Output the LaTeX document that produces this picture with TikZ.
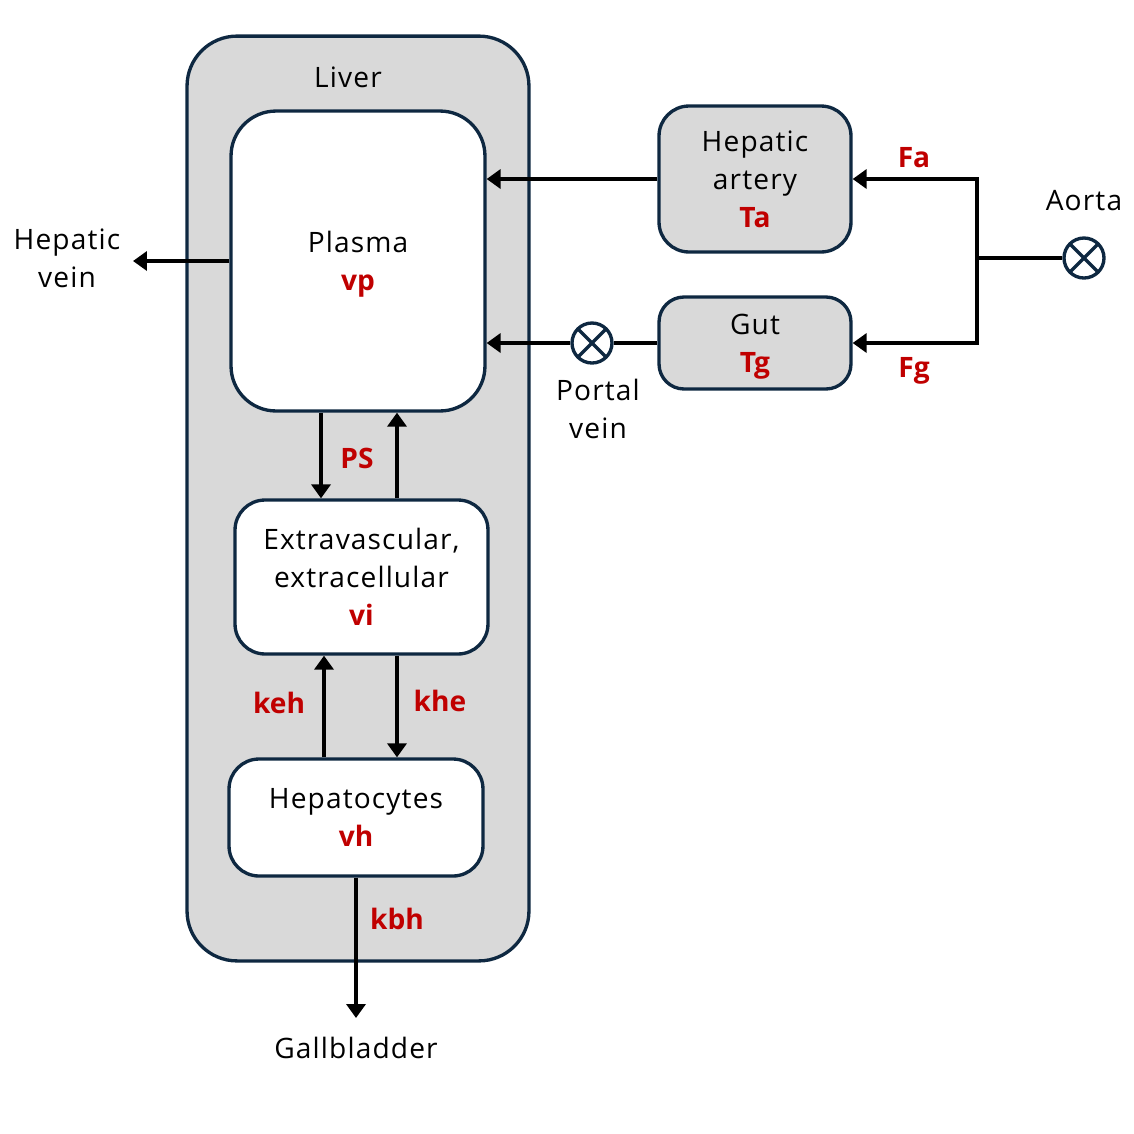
\documentclass[tikz,border=0pt]{standalone}
\usepackage{fontspec}
\setmainfont{Open Sans}[LetterSpace=4,BoldFeatures={LetterSpace=0}]
\usepackage{tikz}
\usetikzlibrary{arrows.meta}

\definecolor{navy}{RGB}{14,40,65}
\definecolor{liverfill}{RGB}{217,217,217}
\definecolor{ratered}{RGB}{192,0,0}
\newcommand{\rate}[1]{\textcolor{ratered}{\bfseries\smash{#1}}}

\tikzset{
  compbox/.style={draw=navy,line width=1.9pt,fill=white,align=center,inner sep=0pt,
    font=\fontsize{16}{21.6}\selectfont},
  organbox/.style={compbox,fill=liverfill},
  flow/.style={line width=2.2pt,-{Triangle[length=0.28cm,width=0.38cm]}},
  plainline/.style={line width=2.2pt},
  txt/.style={align=center,inner sep=0pt,font=\fontsize{16}{21.6}\selectfont},
  ratelbl/.style={txt,text=ratered,font=\fontsize{16}{21.6}\selectfont\bfseries},
  valve/.style={circle,draw=navy,line width=1.9pt,fill=white,minimum size=0.8cm,inner sep=0pt,
    path picture={\draw[navy,line width=1.9pt] (path picture bounding box.north east) -- (path picture bounding box.south west)
      (path picture bounding box.north west) -- (path picture bounding box.south east);}}
}

\begin{document}
\begin{tikzpicture}[x=0.02cm,y=-0.02cm]
\useasboundingbox (0,0) rectangle (1134,1134);

% liver and its compartments
\node[organbox,rounded corners=1cm,minimum width=6.84cm,minimum height=18.5cm] (liver) at (358,498.5) {};
\node[txt] (liverlbl) at (348,77) {Liver};
\node[compbox,rounded corners=0.9cm,minimum width=5.08cm,minimum height=6cm] (plasma) at (358,261) {Plasma\\\rate{vp}};
\node[compbox,rounded corners=0.6cm,minimum width=5.06cm,minimum height=3.08cm] (extra) at (361.5,577) {Extravascular,\\extracellular\\\rate{vi}};
\node[compbox,rounded corners=0.6cm,minimum width=5.08cm,minimum height=2.34cm] (hep) at (356,817.5) {Hepatocytes\\\rate{vh}};

% supply side
\node[organbox,rounded corners=0.6cm,minimum width=3.84cm,minimum height=2.92cm] (artery) at (755,179) {Hepatic\\artery\\\rate{Ta}};
\node[organbox,rounded corners=0.5cm,minimum width=3.84cm,minimum height=1.84cm] (gut) at (755,343) {Gut\\\rate{Tg}};
\node[valve] (pv) at (592,343) {};
\node[valve] (aorta) at (1084,258) {};
\coordinate (junc) at (977,258);
\coordinate (hvend) at (133,260);
\coordinate (gallend) at (355,1018);

% outside labels
\node[txt] (hvlbl) at (67,258) {Hepatic\\vein};
\node[txt] (pvlbl) at (598,409) {Portal\\vein};
\node[txt] (aortalbl) at (1084,201) {Aorta};
\node[txt] (gall) at (356,1048) {Gallbladder};

% flows
\draw[plainline] (aorta.west) -- (junc);
\draw[flow] (junc) |- (artery.east);
\draw[flow] (junc) |- (gut.east);
\draw[flow] (artery.west) -- (artery.west -| plasma.east);
\draw[plainline] (gut.west) -- (pv.east);
\draw[flow] (pv.west) -- (pv.west -| plasma.east);
\draw[flow] (plasma.west) -- (plasma.west -| hvend);
\draw[flow] ([xshift=-0.74cm]plasma.south) -- ([xshift=-0.74cm]plasma.south |- extra.north);
\draw[flow] ([xshift=0.78cm]plasma.south |- extra.north) -- ([xshift=0.78cm]plasma.south);
\draw[flow] ([xshift=-0.64cm]hep.north) -- ([xshift=-0.64cm]hep.north |- extra.south);
\draw[flow] ([xshift=0.71cm]extra.south) -- ([xshift=0.71cm]extra.south |- hep.north);
\draw[flow] (hep.south) -- (hep.south |- gallend);

% rate labels
\node[ratelbl] (fa) at (914,158) {Fa};
\node[ratelbl] (fg) at (914,371) {Fg};
\node[ratelbl] (ps) at (357,458) {PS};
\node[ratelbl] (keh) at (279,703) {keh};
\node[ratelbl] (khe) at (440,701) {khe};
\node[ratelbl] (kbh) at (397,919) {kbh};
\end{tikzpicture}
\end{document}
